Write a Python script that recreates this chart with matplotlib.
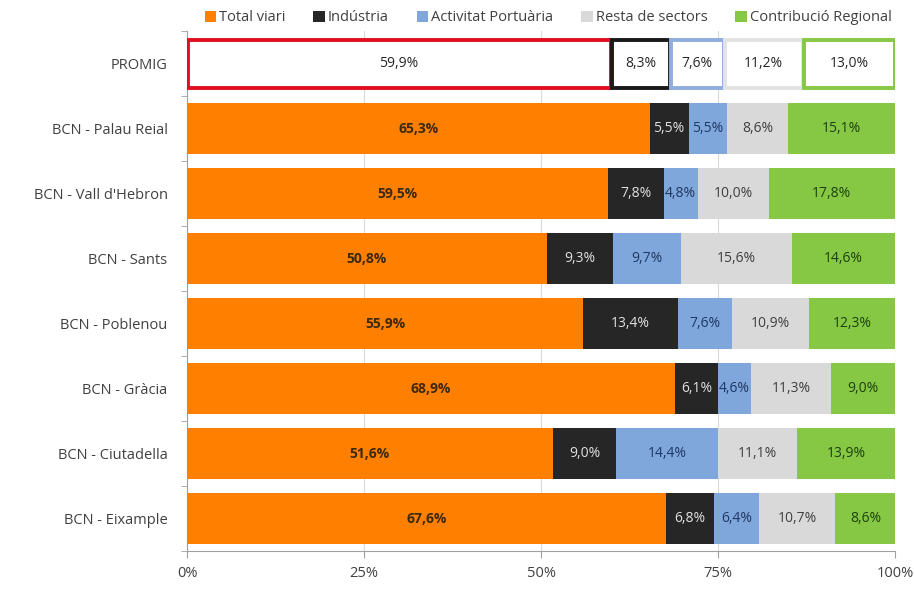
import matplotlib.pyplot as plt
import numpy as np

plt.rcParams['font.family'] = ['Open Sans', 'DejaVu Sans']

estacions = ['PROMIG', 'BCN - Palau Reial', "BCN - Vall d'Hebron", 'BCN - Sants',
             'BCN - Poblenou', 'BCN - Gràcia', 'BCN - Ciutadella', 'BCN - Eixample']
sectors = ['Total viari', 'Indústria', 'Activitat Portuària', 'Resta de sectors',
           'Contribució Regional']

total_viari = [59.9, 65.3, 59.5, 50.8, 55.9, 68.9, 51.6, 67.6]
industria = [8.3, 5.5, 7.8, 9.3, 13.4, 6.1, 9.0, 6.8]
portuaria = [7.6, 5.5, 4.8, 9.7, 7.6, 4.6, 14.4, 6.4]
resta = [11.2, 8.6, 10.0, 15.6, 10.9, 11.3, 11.1, 10.7]
regional = [13.0, 15.1, 17.8, 14.6, 12.3, 9.0, 13.9, 8.6]

colors = ['#FF8000', '#262626', '#7FA7DB', '#D9D9D9', '#86C843']
edge_promig = ['#E0101C', '#1A1A1A', '#8EAEDC', '#E3E3E3', '#86C843']
txt_colors = ['#3A2A10', '#E0E0E0', '#1F3864', '#404040', '#1E4010']

series = [total_viari, industria, portuaria, resta, regional]

fig = plt.figure(figsize=(9.14, 5.9), dpi=100)
ax = fig.add_axes([0.2046, 0.066, 0.775, 0.881])

y = np.arange(len(estacions))
h = 0.78
left = np.zeros(len(estacions))
for i, (vals, name) in enumerate(zip(series, sectors)):
    vals = np.array(vals)
    # rows 1.. are filled; PROMIG is drawn as outline only
    ax.barh(y[1:], vals[1:], left=left[1:], height=h, color=colors[i], label=name,
            zorder=3)
    ax.barh(y[0], vals[0] - 0.15, left=left[0] + 0.15, height=h - 0.04,
            color='white', edgecolor=edge_promig[i], linewidth=2.8, zorder=3)
    for j in range(len(estacions)):
        c = '#262626' if j == 0 else txt_colors[i]
        fw = 'bold' if (i == 0 and j > 0) else 'normal'
        ax.text(left[j] + vals[j] / 2, y[j],
                f'{vals[j]:.1f}%'.replace('.', ','), ha='center', va='center',
                fontsize=10, color=c, fontweight=fw, zorder=4)
    left += vals

ax.set_xlim(0, 100)
ax.set_ylim(len(estacions) - 0.5, -0.5)
ax.set_yticks(y)
ax.set_yticklabels(estacions, fontsize=10.5, color='#404040')
ax.set_yticks(np.arange(-0.5, len(estacions)), minor=True)
ax.tick_params(axis='y', which='major', length=0, pad=14)
ax.tick_params(axis='y', which='minor', length=4, color='#A0A0A0')
ax.set_xticks([0, 25, 50, 75, 100])
ax.set_xticklabels(['0%', '25%', '50%', '75%', '100%'], fontsize=10.5, color='#404040')
ax.tick_params(axis='x', length=5, color='#A0A0A0', pad=6)
ax.grid(axis='x', color='#D9D9D9', linewidth=0.8, zorder=0)
for s in ['top', 'right']:
    ax.spines[s].set_visible(False)
for s in ['left', 'bottom']:
    ax.spines[s].set_color('#A0A0A0')

ax.legend(loc='lower center', bbox_to_anchor=(0.51, 1.0), ncol=5, frameon=False,
          fontsize=10.5, handlelength=0.8, handleheight=0.8, handletextpad=0.2,
          columnspacing=1.9, borderaxespad=0.0, labelcolor='#404040')

fig.savefig('out.png', dpi=100)
